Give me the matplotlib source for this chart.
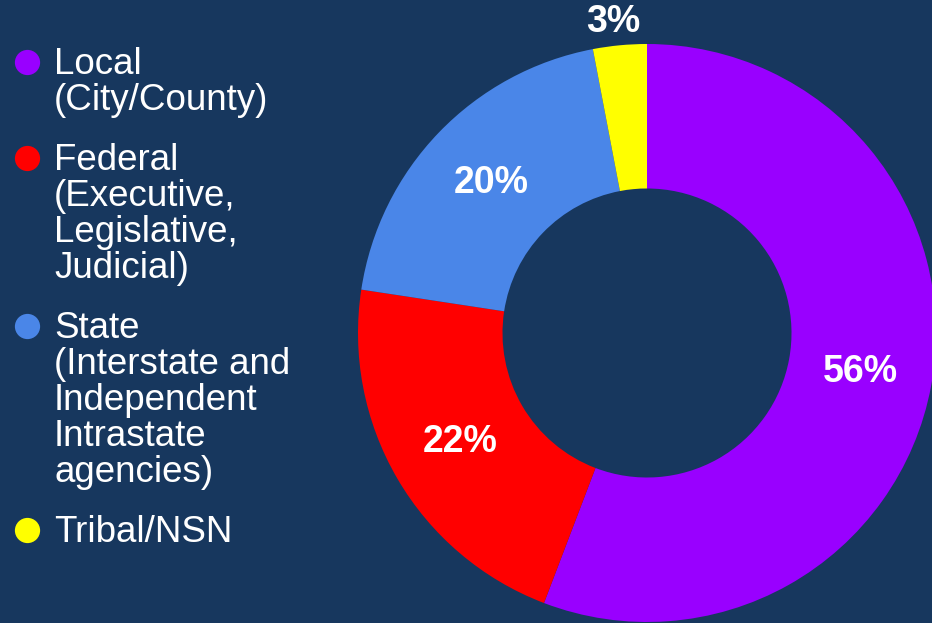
import matplotlib.pyplot as plt

categories = ["Local\n(City/County)",
              "Federal\n(Executive,\nLegislative,\nJudicial)",
              "State\n(Interstate and\nIndependent\nIntrastate\nagencies)",
              "Tribal/NSN"]
shares = [55.8, 21.6, 19.6, 3.0]
colors = ["#9900ff", "#ff0000", "#4a86e8", "#ffff00"]
bg = "#17375e"

plt.rcParams['font.family'] = ['Liberation Sans', 'DejaVu Sans']

W, H = 932, 623
fig = plt.figure(figsize=(W / 100, H / 100), dpi=100, facecolor=bg)

# donut, centre at (647, 333) px, outer radius 289 px
cx, cy, r = 647, 333, 289
ax = fig.add_axes([(cx - r) / W, (H - cy - r) / H, 2 * r / W, 2 * r / H])
ax.set_facecolor(bg)
wedges, texts, autotexts = ax.pie(
    shares, colors=colors, startangle=90, counterclock=False,
    wedgeprops=dict(width=0.5, linewidth=0),
    autopct=lambda p: f"{p:.0f}%", pctdistance=0.75,
    textprops=dict(color="white", fontsize=27, fontweight="bold"))
ax.set_xlim(-1, 1)
ax.set_ylim(-1, 1)
ax.set_aspect("equal")
# small slice label sits outside the ring
autotexts[-1].set_position((-0.118, 1.077))

# legend drawn in pixel coordinates
lax = fig.add_axes([0, 0, 1, 1])
lax.set_xlim(0, W)
lax.set_ylim(H, 0)
lax.axis("off")
pitch = 36
gap = 60
y = 74
for label, c in zip(categories, colors):
    lines = label.split("\n")
    lax.scatter([27], [y - 12], s=330, color=c, linewidths=0)
    for i, line in enumerate(lines):
        lax.text(54, y + i * pitch, line, color="white", fontsize=26.5,
                 va="baseline", ha="left")
    y += (len(lines) - 1) * pitch + gap

fig.savefig("out.png", dpi=100, facecolor=bg)
